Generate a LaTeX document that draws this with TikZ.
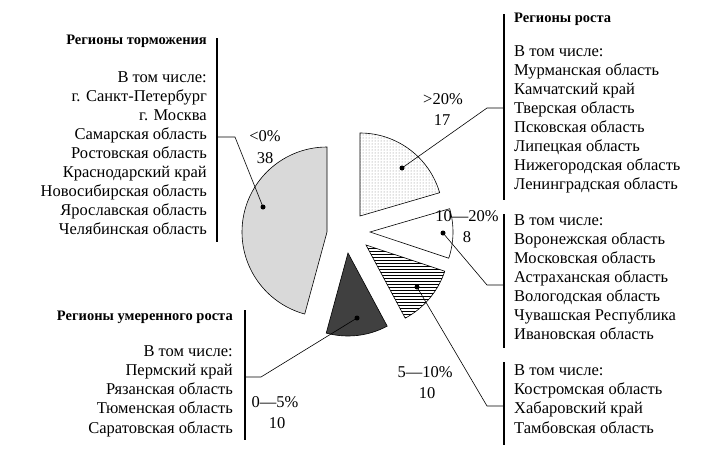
\documentclass[tikz,border=0pt]{standalone}
\usepackage{fontspec}
\setmainfont{Liberation Serif}
\usetikzlibrary{patterns}
\begin{document}
\begin{tikzpicture}[x=1pt,y=1pt,
  txt/.style={font=\fontsize{16.5}{19}\selectfont,inner sep=0pt},
  lt/.style={txt,anchor=mid east},
  rt/.style={txt,anchor=mid west},
  hd/.style={font=\fontsize{14.5}{17}\selectfont\bfseries,inner sep=0pt},
  bar/.style={line width=1.6pt},
  lead/.style={line width=0.6pt},
  dotm/.style={circle,fill=black,inner sep=0pt,minimum size=5pt},
  slice/.style={draw=black,line width=0.6pt}]
\useasboundingbox (0,0) rectangle (722,-450);
% slices
\filldraw[slice,fill=gray!30] (327,-232) -- ++(90:85) arc[start angle=90,end angle=254.8,radius=85] -- cycle;
\fill[white] (360,-216) -- ++(16.3:83) arc[start angle=16.3,end angle=90,radius=83] -- cycle;
\fill[pattern=dots,pattern color=gray] (360,-216) -- ++(16.3:83) arc[start angle=16.3,end angle=90,radius=83] -- cycle;
\draw[slice] (360,-216) -- ++(16.3:83) arc[start angle=16.3,end angle=90,radius=83] -- cycle;
\filldraw[slice,fill=white] (370,-232) -- ++(-18.4:83) arc[start angle=-18.4,end angle=16.3,radius=83] -- cycle;
\filldraw[slice,pattern=horizontal lines] (366,-245) -- ++(-61.8:83) arc[start angle=-61.8,end angle=-18.4,radius=83] -- cycle;
\filldraw[slice,fill=black!75] (348,-253) -- ++(-105.2:83) arc[start angle=-105.2,end angle=-61.8,radius=83] -- cycle;
% dots
\node[dotm] (d1) at (263,-207) {};
\node[dotm] (d2) at (402,-168) {};
\node[dotm] (d3) at (443,-233) {};
\node[dotm] (d4) at (417,-287) {};
\node[dotm] (d5) at (357,-318) {};
% slice labels
\node[txt] (l1) at (265,-136) {<0\%};
\node[txt] (l1n) at (265,-158) {38};
\node[txt] (l2) at (443,-99) {>20\%};
\node[txt] (l2n) at (442,-120) {17};
\node[txt] (l3) at (467,-216) {10—20\%};
\node[txt] (l3n) at (467,-237) {8};
\node[txt] (l4) at (425,-372) {5—10\%};
\node[txt] (l4n) at (427,-393) {10};
\node[txt] (l5) at (275,-402) {0—5\%};
\node[txt] (l5n) at (277,-423) {10};
% bars
\coordinate (b1t) at (217,-38); \coordinate (b1b) at (217,-242);
\coordinate (b2t) at (504,-14); \coordinate (b2b) at (504,-200);
\coordinate (b3t) at (504,-214); \coordinate (b3b) at (504,-348);
\coordinate (b4t) at (504,-362); \coordinate (b4b) at (504,-445);
\coordinate (b5t) at (245,-310); \coordinate (b5b) at (245,-440);
\draw[bar] (b1t) -- (b1b); \draw[bar] (b2t) -- (b2b); \draw[bar] (b3t) -- (b3b);
\draw[bar] (b4t) -- (b4b); \draw[bar] (b5t) -- (b5b);
% leaders
\coordinate (k1) at (235,-137); \coordinate (e1) at (217,-137);
\draw[lead] (e1) -- (k1) -- (d1.center);
\coordinate (k2) at (487,-108); \coordinate (e2) at (504,-108);
\draw[lead] (e2) -- (k2) -- (d2.center);
\coordinate (k3) at (487,-285); \coordinate (e3) at (504,-285);
\draw[lead] (e3) -- (k3) -- (d3.center);
\coordinate (k4) at (487,-406); \coordinate (e4) at (504,-406);
\draw[lead] (e4) -- (k4) -- (d4.center);
\coordinate (k5) at (261,-377); \coordinate (e5) at (245,-377);
\draw[lead] (e5) -- (k5) -- (d5.center);
% left block
\node[hd,anchor=mid east] (h1) at (207,-42) {Регионы торможения};
\foreach \t [count=\i from 0] in {В том числе:,г. Санкт-Петербург,г. Москва,Самарская область,Ростовская область,Краснодарский край,Новосибирская область,Ярославская область,Челябинская область}
  \node[lt] (a\i) at (207,-80-19*\i) {\t};
% right top
\node[hd,anchor=mid west] (h2) at (514,-20) {Регионы роста};
\foreach \t [count=\i from 0] in {В том числе:,Мурманская область,Камчатский край,Тверская область,Псковская область,Липецкая область,Нижегородская область,Ленинградская область}
  \node[rt] (b\i) at (514,-54-19*\i) {\t};
% right middle
\foreach \t [count=\i from 0] in {В том числе:,Воронежская область,Московская область,Астраханская область,Вологодская область,Чувашская Республика,Ивановская область}
  \node[rt] (c\i) at (514,-223-19*\i) {\t};
% right bottom
\foreach \t [count=\i from 0] in {В том числе:,Костромская область,Хабаровский край,Тамбовская область}
  \node[rt] (f\i) at (514,-373-19.3*\i) {\t};
% bottom left
\node[hd,anchor=mid east] (h5) at (233,-318) {Регионы умеренного роста};
\foreach \t [count=\i from 0] in {В том числе:,Пермский край,Рязанская область,Тюменская область,Саратовская область}
  \node[lt] (g\i) at (233,-354-19.2*\i) {\t};
\end{tikzpicture}
\end{document}
